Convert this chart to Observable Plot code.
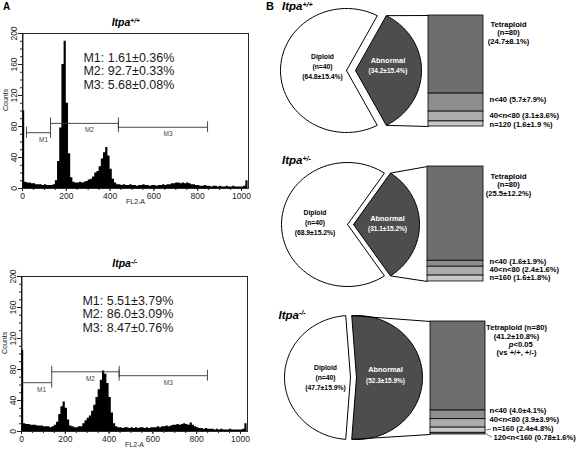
<!DOCTYPE html>
<html><head><meta charset="utf-8">
<script src="https://cdn.jsdelivr.net/npm/d3@7"></script>
<script src="https://cdn.jsdelivr.net/npm/@observablehq/plot@0.6"></script>
<style>
body{margin:0;background:#fff;}
#fig{position:relative;width:577px;height:452px;background:#fff;font-family:"Liberation Sans",Arial,Helvetica,sans-serif;overflow:hidden;}
.abs{position:absolute;}
.ttl{position:absolute;font-weight:bold;font-style:italic;line-height:1;white-space:nowrap;color:#000;}
.ttl .sup{position:relative;top:-0.45em;font-size:0.62em;}
</style></head><body><div id="fig"></div>
<script>
const FONT = '"Liberation Sans", Arial, Helvetica, sans-serif';
// ---------- Panel A data: FL2-A histograms, 10-unit bins starting at 0 ----------
const binWidth = 10;
const countsWT = [
 100,8,7,7,6,6,5,5,5,4,
 5,4,4,4,5,10,35,78,160,190,
 110,45,14,8,7,7,8,7,8,9,
 11,12,15,20,22,28,38,46,53,42,
 25,12,7,5,5,4,5,4,4,5,
 4,4,3,4,4,5,4,4,3,4,
 4,3,4,4,5,4,5,5,6,6,
 7,7,6,7,6,7,6,5,5,4,
 4,3,3,4,3,3,2,3,3,2,
 3,2,2,3,2,2,3,2,2,2,
 2,3,10];
const countsKO = [
 105,10,9,9,8,8,8,7,7,7,
 6,6,6,5,6,8,12,22,32,38,
 30,15,7,6,5,5,6,6,10,14,
 17,20,26,34,44,54,66,78,74,62,
 44,24,10,6,5,5,4,5,5,4,
 5,4,5,4,5,5,4,5,4,5,
 5,5,6,5,6,6,7,6,7,8,
 8,9,8,9,10,9,8,11,8,6,
 5,4,4,3,4,3,3,3,2,3,
 2,3,2,2,2,3,2,2,2,2,
 2,3,10];
const offScaleWT = [205];   // channel-0 events above the 200-count ceiling
const offScaleKO = [205];
const xTicks = [0,200,400,600,800,1000];
const yTicks = [0,40,80,120,160,200];
const markerNames = ["M1","M2","M3"];
const markerStartWT = [18,128,438], markerEndWT = [128,438,845], markerLevelWT = [72,84,79];
const markerStartKO = [0,138,446],  markerEndKO = [138,446,849], markerLevelKO = [63,77,72];
const statMeanWT = ["1.61","92.7","5.68"], statSdWT = ["0.36","0.33","0.08"];
const statMeanKO = ["5.51","86.0","8.47"], statSdKO = ["3.79","3.09","0.76"];
const statY = [169,151,133];

// ---------- Panel B data ----------
const genotypes = ["+/+","+/-","-/-"];
const diploidMean = [64.8, 68.9, 47.7], diploidSd = [15.4, 15.2, 15.9];
const abnormalMean = [34.2, 31.1, 52.3], abnormalSd = [15.4, 15.2, 15.9];
const segNames = [["Tetraploid","n<40","40<n<80","n=120"],["Tetraploid","n<40","40<n<80","n=160"],["Tetraploid","n<40","40<n<80","n=160","120<n<160"]];
const segMean = [[24.7,5.7,3.1,1.6],[25.5,1.6,2.4,1.6],[41.2,4.0,3.9,2.4,0.78]];
const segSd   = [[8.1,7.9,3.6,1.9],[12.2,1.9,1.6,1.8],[10.8,4.1,3.9,4.8,1.6]];
const segColor = {"Tetraploid":"#6e6e6e","n<40":"#8e8e8e","40<n<80":"#acacac","n=120":"#c8c8c8","n=160":"#c8c8c8","120<n<160":"#7c7c7c"};

// layout (figure pixels)
const layout = [
 {cy:70, dipCx:346, abnCx:355, rx:66, ry:62, barX1:428, barX2:483, barTop:15, barBottom:126,
  tetraX:508, tetraY:24, segLabelX:[489,489,489], segLabelY:[99,115,124.3],
  dipLab:[322,56], abnLab:[387.5,60.5], titleLeft:282, titleBase:10.7},
 {cy:224, dipCx:347, abnCx:353, rx:66, ry:62, barX1:427, barX2:483, barTop:166, barBottom:281,
  tetraX:508, tetraY:176, segLabelX:[489,489,489], segLabelY:[261,269.3,277],
  dipLab:[314.5,212], abnLab:[387,218.5], titleLeft:282, titleBase:164.5},
 {cy:377, dipCx:350, abnCx:356, rx:66, ry:62, barX1:430, barX2:485, barTop:321, barBottom:434,
  tetraX:516, tetraY:327.3, segLabelX:[489,489,492,493], segLabelY:[410,419.3,428.3,436.7],
  dipLab:[325,367], abnLab:[385,369], titleLeft:278.5, titleBase:319.3}
];

const fig = document.getElementById("fig");
function place(el, left, top){ const d=document.createElement("div"); d.className="abs"; d.style.left=left+"px"; d.style.top=top+"px"; d.appendChild(el); fig.appendChild(d); }
function title(txt, sup, left, base, size, italic=true){
  const d=document.createElement("div"); d.className="ttl"; d.style.fontSize=size+"px";
  if(!italic) d.style.fontStyle="normal";
  d.style.left=left+"px"; d.style.top=(base-0.8465*size)+"px";
  d.innerHTML = txt + (sup?'<span class="sup">'+sup+'</span>':"");
  fig.appendChild(d);
}
const pm = "\u00b1";

function histogram(counts, offScale, mStart, mEnd, mLevel, means, sds){
  const pts = counts.map((c,i)=>({x:i*binWidth, c}));
  pts.push({x:counts.length*binWidth, c:counts[counts.length-1]});
  const markers = markerNames.map((n,i)=>({n, x1:mStart[i], x2:mEnd[i], y:mLevel[i]}));
  const ends = markers.flatMap(m=>[{x:m.x1,y:m.y},{x:m.x2,y:m.y}]);
  const stats = markerNames.map((n,i)=>({t:`${n}: ${means[i]}${pm}${sds[i]}%`, y:statY[i]}));
  return Plot.plot({
    width:252, height:180, marginLeft:22, marginRight:4, marginTop:3, marginBottom:22,
    x:{domain:[0,1032]}, y:{domain:[0,200]},
    style:{fontFamily:FONT, fontSize:"8.5px", color:"#222", background:"transparent", overflow:"visible"},
    marks:[
      Plot.areaY(pts,{x:"x", y:"c", curve:"step-after", fill:"#000"}),
      Plot.ruleX(offScale,{x:()=>2, y1:()=>0, y2:d=>Math.min(d,200), stroke:"#000", strokeWidth:0.9}),
      Plot.frame({stroke:"#111", strokeWidth:0.9}),
      Plot.axisX({ticks:xTicks, tickSize:3, tickPadding:1, tickFormat:d=>String(d), label:null, fontSize:8.5}),
      Plot.axisX({ticks:d3.range(0,1001,50), tickSize:2, tickFormat:()=>"", label:null}),
      Plot.axisY({ticks:yTicks, tickSize:4, tickRotate:-90, tickPadding:2, tickFormat:d=>String(d), label:null, fontSize:8.5}),
      Plot.axisY({ticks:d3.range(0,201,10), tickSize:2, tickFormat:()=>"", label:null}),
      Plot.text(["Counts"],{frameAnchor:"left", rotate:-90, dx:-17, fontSize:7}),
      Plot.text(["FL2-A"],{frameAnchor:"bottom", dy:15, fontSize:7}),
      Plot.ruleY(markers,{x1:"x1", x2:"x2", y:"y", stroke:"#333", strokeWidth:0.9}),
      Plot.ruleX(ends,{x:"x", y1:d=>d.y-7, y2:d=>d.y+7, stroke:"#333", strokeWidth:0.9}),
      Plot.text(markers,{x:d=>(d.x1+d.x2)/2, y:"y", text:"n", dx:5, dy:7, fontSize:6.5, fill:"#444"}),
      Plot.text(stats,{x:()=>278, y:"y", text:"t", textAnchor:"start", fontSize:12.5, fill:"#1a1a1a"})
    ]
  });
}

place(histogram(countsWT, offScaleWT, markerStartWT, markerEndWT, markerLevelWT, statMeanWT, statSdWT), 0, 30);
place(histogram(countsKO, offScaleKO, markerStartKO, markerEndKO, markerLevelKO, statMeanKO, statSdKO), -1, 273);

// ---------- Panel B ----------
function slicePts(cx, cy, rx, ry, t0, t1){
  const n=72, pts=[{x:cx,y:cy}];
  for(let k=0;k<=n;k++){ const t=t0+(t1-t0)*k/n; pts.push({x:cx+rx*Math.cos(t), y:cy-ry*Math.sin(t)}); }
  pts.push({x:cx,y:cy});
  return pts;
}
const fmt = v => v<1 ? v.toFixed(2) : v.toFixed(1);
const marksB = [];
genotypes.forEach((g,gi)=>{
  const L = layout[gi];
  const half = Math.PI*abnormalMean[gi]/(abnormalMean[gi]+diploidMean[gi]);
  marksB.push(Plot.line(slicePts(L.dipCx,L.cy,L.rx,L.ry,half,2*Math.PI-half),{x:"x",y:"y",fill:"#fff",stroke:"#000",strokeWidth:1,curve:"linear"}));
  marksB.push(Plot.line(slicePts(L.abnCx,L.cy,L.rx,L.ry,-half,half),{x:"x",y:"y",fill:"#4d4d4d",stroke:"#000",strokeWidth:1,curve:"linear"}));
  const top = {x:L.abnCx+L.rx*Math.cos(half), y:L.cy-L.ry*Math.sin(half)};
  const bot = {x:L.abnCx+L.rx*Math.cos(half), y:L.cy+L.ry*Math.sin(half)};
  marksB.push(Plot.link([{x1:top.x,y1:top.y,x2:L.barX1,y2:L.barTop},{x1:bot.x,y1:bot.y,x2:L.barX1,y2:L.barBottom}],{x1:"x1",y1:"y1",x2:"x2",y2:"y2",stroke:"#000",strokeWidth:1}));
  const vals = segMean[gi], sum = d3.sum(vals), H = L.barBottom-L.barTop;
  let cum = 0;
  const segs = vals.map((v,i)=>{ const s={name:segNames[gi][i], v, sd:segSd[gi][i], y1:L.barTop+H*cum/sum}; cum+=v; s.y2=L.barTop+H*cum/sum; return s; });
  marksB.push(Plot.rect(segs,{x1:()=>L.barX1, x2:()=>L.barX2, y1:"y1", y2:"y2", fill:d=>segColor[d.name], stroke:"#000", strokeWidth:0.8, inset:0}));
  const t = segs[0];
  const tLines = gi<2 ? ["Tetraploid","(n=80)",`(${fmt(t.v)}${pm}${fmt(t.sd)}%)`] : ["Tetraploid (n=80)",`(${fmt(t.v)}${pm}${fmt(t.sd)}%)`];
  marksB.push(Plot.text(tLines,{x:()=>L.tetraX, y:(d,i)=>L.tetraY+8.3*i, text:d=>d, fontSize:7.6, fontWeight:"bold"}));
  if(gi===2){
    const yp = L.tetraY+8.3*2, yv = L.tetraY+8.3*3;
    marksB.push(Plot.text(["p"],{x:()=>L.tetraX-3, y:()=>yp, text:d=>d, textAnchor:"end", fontSize:7.6, fontWeight:"bold", fontStyle:"italic"}));
    marksB.push(Plot.text(["<0.05"],{x:()=>L.tetraX-3, y:()=>yp, text:d=>d, textAnchor:"start", fontSize:7.6, fontWeight:"bold"}));
    marksB.push(Plot.text(["(vs +/+, +/-)"],{x:()=>L.tetraX, y:()=>yv, text:d=>d, fontSize:7.6, fontWeight:"bold"}));
  }
  const small = segs.slice(1).map((s,i)=>({s, x:L.segLabelX[i], y:L.segLabelY[i],
     t:`${s.name} (${fmt(s.v)}${pm}${fmt(s.sd)}${s.name==="n=120"?" ":""}%)`}));
  marksB.push(Plot.text(small,{x:"x", y:"y", text:"t", textAnchor:"start", fontSize:7.6, fontWeight:"bold"}));
  const leaders = small.filter(d=>d.x>L.segLabelX[0]);
  marksB.push(Plot.link(leaders,{x1:()=>L.barX2, y1:d=>(d.s.y1+d.s.y2)/2, x2:d=>d.x-1.5, y2:"y", stroke:"#333", strokeWidth:0.7}));
  const dl = [`Diploid`,`(n=40)`,`(${fmt(diploidMean[gi])}${pm}${fmt(diploidSd[gi])}%)`];
  marksB.push(Plot.text(dl,{x:()=>L.dipLab[0], y:(d,i)=>L.dipLab[1]+10*i, text:d=>d, fontSize:6.8, fontWeight:"bold", fill:"#000"}));
  const al = [`Abnormal`,`(${fmt(abnormalMean[gi])}${pm}${fmt(abnormalSd[gi])}%)`];
  marksB.push(Plot.text(al,{x:()=>L.abnLab[0], y:(d,i)=>L.abnLab[1]+(gi===2?11.5:9.5)*i, text:d=>d, fontSize:(d,i)=>i===0?7.4:6.5, fontWeight:"bold", fill:"#fff"}));
});
const panelB = Plot.plot({
  width:317, height:452, margin:0,
  x:{domain:[260,577], axis:null}, y:{domain:[0,452], range:[0,452], axis:null},
  style:{fontFamily:FONT, background:"transparent", overflow:"visible"},
  marks: marksB
});
place(panelB, 260, 0);

// titles
title("A", "", 3, 10.5, 10, false);
title("Itpa", "+/+", 111.7, 26, 10.5);
title("Itpa", "-/-", 112.3, 267.3, 10.5);
title("B", "", 266, 10.7, 11, false);
layout.forEach((L,gi)=>title("Itpa", genotypes[gi], L.titleLeft, L.titleBase, 11.5));
</script></body></html>
